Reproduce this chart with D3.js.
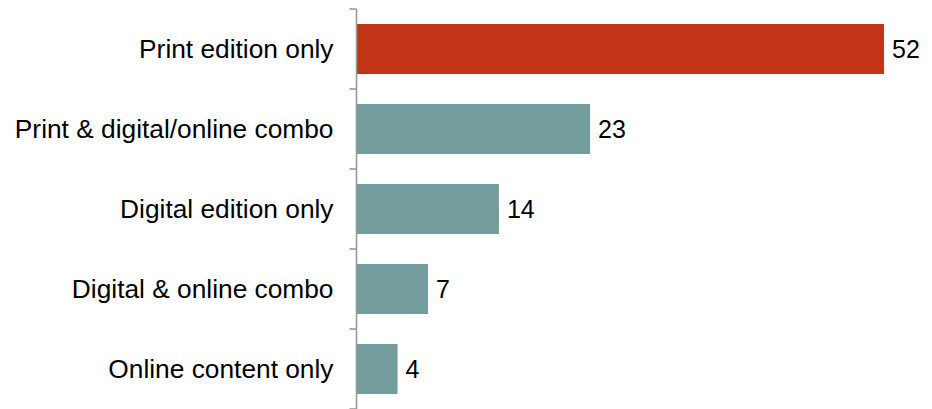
<!DOCTYPE html>
<html>
<head>
<meta charset="utf-8">
<script src="https://cdn.jsdelivr.net/npm/d3@7"></script>
<style>
  html, body { margin: 0; padding: 0; background: #fff; }
  svg { display: block; font-family: "Liberation Sans", Arial, sans-serif; }
</style>
</head>
<body>
<svg id="chart" width="932" height="409"></svg>
<script>
const categories = ["Print edition only", "Print & digital/online combo", "Digital edition only", "Digital & online combo", "Online content only"];
const values = [52, 23, 14, 7, 4];
const highlight = ["Print edition only"];

const W = 932, H = 409;
const margin = { top: 9, right: 48, bottom: 0, left: 357 };
const svg = d3.select("#chart");

const x = d3.scaleLinear().domain([0, 52]).range([margin.left, 884]);
const y = d3.scaleBand().domain(categories).range([margin.top, H - margin.bottom])
  .paddingInner(0.375).paddingOuter(0.1875);

const data = categories.map((c, i) => ({ c, v: values[i] }));

// bars
svg.append("g").selectAll("rect").data(data).join("rect")
  .attr("x", x(0))
  .attr("y", d => y(d.c))
  .attr("width", d => x(d.v) - x(0))
  .attr("height", y.bandwidth())
  .attr("fill", d => highlight.includes(d.c) ? "#C23416" : "#739C9C");

// axis line and ticks between categories
const axisX = x(0) - 0.5;
const half = y.step() * y.paddingInner() / 2;
const bounds = categories.map(c => y(c) - half).concat([y(categories[categories.length - 1]) + y.bandwidth() + half]);
const ax = svg.append("g").attr("stroke", "#999").attr("stroke-width", 1.6);
ax.append("line").attr("x1", axisX).attr("x2", axisX).attr("y1", bounds[0]).attr("y2", bounds[bounds.length - 1]);
ax.selectAll(".tk").data(bounds).join("line").attr("class", "tk")
  .attr("x1", axisX - 7).attr("x2", axisX).attr("y1", d => d).attr("y2", d => d);

// category labels
svg.append("g").selectAll("text").data(data).join("text")
  .attr("x", axisX - 23)
  .attr("y", d => y(d.c) + y.bandwidth() / 2)
  .attr("dy", "0.35em")
  .attr("text-anchor", "end")
  .attr("font-size", 26.3)
  .attr("fill", "#000")
  .text(d => d.c);

// value labels
svg.append("g").selectAll("text").data(data).join("text")
  .attr("x", d => x(d.v) + 8)
  .attr("y", d => y(d.c) + y.bandwidth() / 2)
  .attr("dy", "0.35em")
  .attr("font-size", 25)
  .attr("fill", "#000")
  .text(d => d.v);
</script>
</body>
</html>
